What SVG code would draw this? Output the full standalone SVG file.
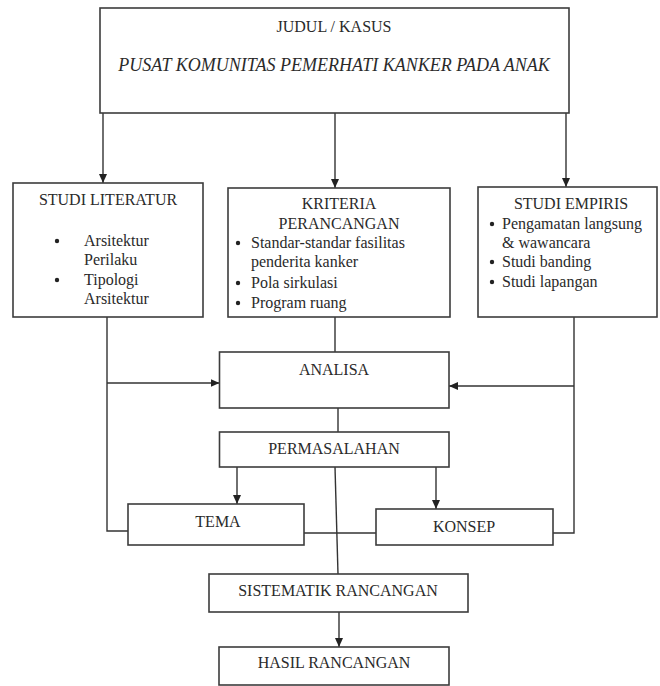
<svg xmlns="http://www.w3.org/2000/svg" width="660" height="686" viewBox="0 0 660 686">
<defs>
<style>
.box{fill:#fff;stroke:#3c3c3c;stroke-width:1.6}
.ln{fill:none;stroke:#333;stroke-width:1.4}
.t{font-family:"Liberation Serif","Times New Roman",serif;font-size:16px;fill:#2a2a2a}
.c{text-anchor:middle}
.ti{font-style:italic;font-size:18px}
.dot{fill:#222}
</style>
<marker id="ah" markerUnits="userSpaceOnUse" markerWidth="9" markerHeight="8" refX="9" refY="4" orient="auto">
<path d="M0,0 L9,4 L0,8 z" fill="#222"/>
</marker>
</defs>
<rect width="660" height="686" fill="#fff"/>

<g id="connectors">
<line class="ln" x1="103" y1="113" x2="103" y2="183" marker-end="url(#ah)"/>
<line class="ln" x1="335" y1="113" x2="335" y2="188" marker-end="url(#ah)"/>
<line class="ln" x1="566" y1="113" x2="566" y2="187" marker-end="url(#ah)"/>
<polyline class="ln" points="107,317 107,531 128,531"/>
<line class="ln" x1="107" y1="383" x2="219.5" y2="383" marker-end="url(#ah)"/>
<polyline class="ln" points="574,317 574,533 553,533"/>
<line class="ln" x1="574" y1="386" x2="449" y2="386" marker-end="url(#ah)"/>
<line class="ln" x1="335" y1="317" x2="335" y2="352"/>
<line class="ln" x1="338" y1="408" x2="338" y2="432"/>
<line class="ln" x1="237" y1="467" x2="237" y2="504" marker-end="url(#ah)"/>
<line class="ln" x1="436" y1="467" x2="436" y2="509" marker-end="url(#ah)"/>
<line class="ln" x1="304" y1="533" x2="376" y2="533"/>
<line class="ln" x1="335" y1="467" x2="338" y2="574"/>
<line class="ln" x1="339" y1="612" x2="339" y2="647" marker-end="url(#ah)"/>
</g>

<g id="judul">
<rect class="box" x="100" y="8" width="469" height="105"/>
<text class="t c" x="334" y="32">JUDUL / KASUS</text>
<text class="t c ti" x="334" y="71">PUSAT KOMUNITAS PEMERHATI KANKER PADA ANAK</text>
</g>

<g id="studi-literatur">
<rect class="box" x="13" y="183" width="190" height="134"/>
<text class="t c" x="108" y="205">STUDI LITERATUR</text>
<circle class="dot" cx="57" cy="241" r="2.2"/>
<circle class="dot" cx="57" cy="280" r="2.2"/>
<text class="t" x="84" y="246">Arsitektur</text>
<text class="t" x="84" y="265">Perilaku</text>
<text class="t" x="84" y="285">Tipologi</text>
<text class="t" x="84" y="304">Arsitektur</text>
</g>

<g id="kriteria-perancangan">
<rect class="box" x="228" y="188" width="222" height="129"/>
<text class="t c" x="339" y="209">KRITERIA</text>
<text class="t c" x="339" y="229">PERANCANGAN</text>
<circle class="dot" cx="238" cy="243" r="2.2"/>
<circle class="dot" cx="238" cy="283" r="2.2"/>
<circle class="dot" cx="238" cy="303" r="2.2"/>
<text class="t" x="251" y="248">Standar-standar fasilitas</text>
<text class="t" x="251" y="267">penderita kanker</text>
<text class="t" x="251" y="288">Pola sirkulasi</text>
<text class="t" x="251" y="308">Program ruang</text>
</g>

<g id="studi-empiris">
<rect class="box" x="478" y="187" width="179" height="130"/>
<text class="t c" x="571" y="209">STUDI EMPIRIS</text>
<circle class="dot" cx="492" cy="224" r="2.2"/>
<circle class="dot" cx="492" cy="262" r="2.2"/>
<circle class="dot" cx="492" cy="282" r="2.2"/>
<text class="t" x="502" y="229">Pengamatan langsung</text>
<text class="t" x="502" y="248">&amp; wawancara</text>
<text class="t" x="502" y="267">Studi banding</text>
<text class="t" x="502" y="287">Studi lapangan</text>
</g>

<g id="analisa">
<rect class="box" x="219.5" y="352" width="229.5" height="56"/>
<text class="t c" x="334" y="375">ANALISA</text>
</g>

<g id="permasalahan">
<rect class="box" x="219.5" y="432" width="229.5" height="35"/>
<text class="t c" x="334" y="454">PERMASALAHAN</text>
</g>

<g id="tema">
<rect class="box" x="128" y="504" width="176" height="41"/>
<text class="t c" x="218" y="527">TEMA</text>
</g>

<g id="konsep">
<rect class="box" x="376" y="509" width="177" height="36"/>
<text class="t c" x="464" y="532">KONSEP</text>
</g>

<g id="sistematik-rancangan">
<rect class="box" x="209" y="574" width="259" height="38"/>
<text class="t c" x="338" y="596">SISTEMATIK RANCANGAN</text>
</g>

<g id="hasil-rancangan">
<rect class="box" x="219" y="647" width="230" height="38"/>
<text class="t c" x="334" y="668">HASIL RANCANGAN</text>
</g>
</svg>
